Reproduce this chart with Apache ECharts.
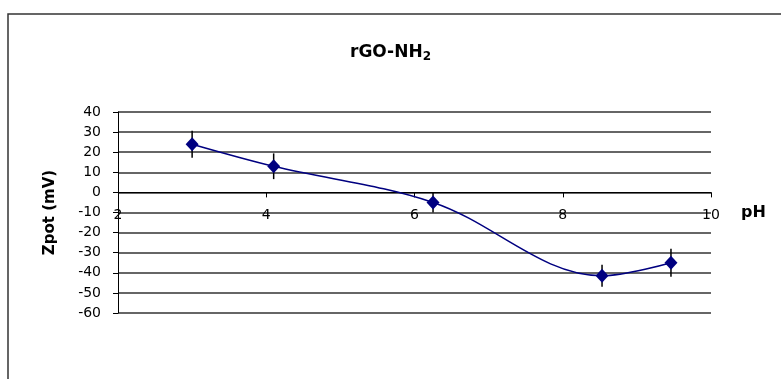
<!DOCTYPE html>
<html>
<head>
<meta charset="utf-8">
<script src="https://cdn.jsdelivr.net/npm/echarts@6/dist/echarts.min.js"></script>
<style>
  html, body { margin: 0; padding: 0; background: #fff; }
  #chart { width: 781px; height: 379px; }
</style>
</head>
<body>
<div id="chart"></div>
<script>
const phValues = [3.0, 4.1, 6.25, 8.53, 9.46];
const zpotValues = [24, 13, -5, -41.5, -35];
const zpotErrors = [6.7, 6.4, 5, 5.5, 7];

const yTicks = { min: -60, max: 40, step: 10 };
const xTicks = { min: 2, max: 10, step: 2 };

const points = phValues.map((x, i) => [x, zpotValues[i]]);
const errorData = phValues.map((x, i) => [x, zpotValues[i] - zpotErrors[i], zpotValues[i] + zpotErrors[i]]);

const chart = echarts.init(document.getElementById('chart'));

const font = 'DejaVu Sans, Verdana, sans-serif';

// x axis sits on the zero line, so shift it up from the grid bottom
const gridTop = 112;
const gridBottom = 66;
const plotH = 379 - gridTop - gridBottom;
const zeroOffset = plotH * (0 - yTicks.min) / (yTicks.max - yTicks.min);

const option = {
  animation: false,
  title: {
    text: '{m|rGO-NH}{s|2}',
    left: 'center',
    top: 37,
    textStyle: {
      rich: {
        m: { fontFamily: font, fontWeight: 'bold', fontSize: 17, color: '#000' },
        s: { fontFamily: font, fontWeight: 'bold', fontSize: 12, color: '#000', verticalAlign: 'bottom', padding: [9, 0, 0, 0] }
      }
    }
  },
  graphic: [{
    type: 'rect',
    shape: { x: 8, y: 14, width: 820, height: 420 },
    style: { fill: 'none', stroke: '#333', lineWidth: 1.5 },
    silent: true
  }],
  grid: {
    left: 118,
    right: 70,
    top: gridTop,
    bottom: gridBottom
  },
  xAxis: {
    type: 'value',
    min: xTicks.min,
    max: xTicks.max,
    interval: xTicks.step,
    position: 'bottom',
    offset: -zeroOffset,
    name: 'pH',
    nameLocation: 'end',
    nameGap: 30,
    nameTextStyle: {
      fontFamily: font, fontWeight: 'bold', fontSize: 16, color: '#000',
      verticalAlign: 'top', padding: [12, 0, 0, 0]
    },
    axisLine: { onZero: false, lineStyle: { color: '#000', width: 1 } },
    axisTick: { show: true, inside: false, length: 5, lineStyle: { color: '#000' } },
    axisLabel: { margin: 16, fontFamily: font, fontSize: 14, color: '#000' },
    splitLine: { show: false }
  },
  yAxis: {
    type: 'value',
    min: yTicks.min,
    max: yTicks.max,
    interval: yTicks.step,
    name: 'Zpot (mV)',
    nameLocation: 'middle',
    nameGap: 60,
    nameTextStyle: { fontFamily: font, fontWeight: 'bold', fontSize: 15, color: '#000' },
    axisLine: { show: true, lineStyle: { color: '#000', width: 1 } },
    axisTick: { show: true, length: 5, lineStyle: { color: '#000' } },
    axisLabel: { margin: 17, fontFamily: font, fontSize: 14, color: '#000' },
    splitLine: { show: true, lineStyle: { color: '#333', width: 1.5 } }
  },
  series: [
    {
      type: 'custom',
      renderItem: (params, api) => {
        const x = api.value(0);
        const lo = api.coord([x, api.value(1)]);
        const hi = api.coord([x, api.value(2)]);
        return {
          type: 'line',
          shape: { x1: lo[0], y1: lo[1], x2: hi[0], y2: hi[1] },
          style: { stroke: '#000', lineWidth: 1.5 }
        };
      },
      encode: { x: 0, y: [1, 2] },
      data: errorData,
      z: 3
    },
    {
      type: 'line',
      data: points,
      smooth: 0.35,
      symbol: 'diamond',
      symbolSize: [13, 14],
      itemStyle: { color: '#000080' },
      lineStyle: { color: '#000080', width: 1.5 },
      z: 4
    }
  ]
};

chart.setOption(option);
</script>
</body>
</html>
